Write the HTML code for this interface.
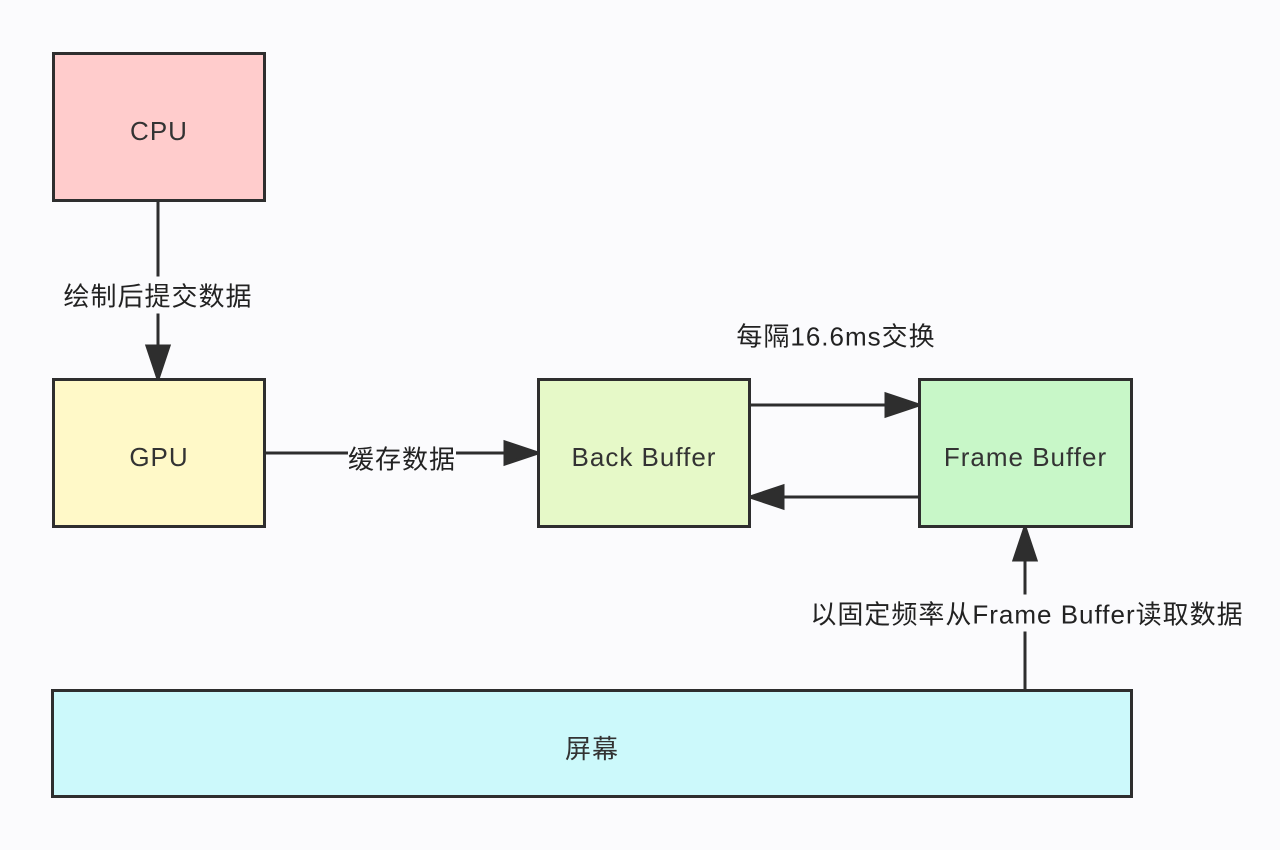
<!DOCTYPE html>
<html><head><meta charset="utf-8"><style>
body{margin:0;width:1280px;height:850px;background:#fbfbfd;position:relative;overflow:hidden;font-family:"Liberation Sans","Noto Sans CJK SC",sans-serif;color:#222}
.b{position:absolute;box-sizing:border-box;border:3px solid #2e2e2e;display:flex;align-items:center;justify-content:center;font-size:26px;letter-spacing:1px;color:#333;padding-top:8px}
.t{position:absolute;font-size:26px;letter-spacing:1px;color:#222;background:#fbfbfd;white-space:nowrap;transform:translate(-50%,-50%)}
</style></head><body>
<svg width="1280" height="850" style="position:absolute;left:0;top:0">
<g stroke="#2e2e2e" stroke-width="3" fill="#2e2e2e">
<line x1="158" y1="201" x2="158" y2="346"/><path d="M147,346L169,346L158,379z"/>
<line x1="265" y1="453" x2="505" y2="453"/><path d="M505,442L505,464L538,453z"/>
<line x1="750" y1="405" x2="886" y2="405"/><path d="M886,394L886,416L919,405z"/>
<line x1="919" y1="497" x2="783" y2="497"/><path d="M783,486L783,508L750,497z"/>
<line x1="1025" y1="690" x2="1025" y2="560"/><path d="M1014,560L1036,560L1025,527z"/>
</g></svg>
<div class="b" style="left:52px;top:52px;width:214px;height:150px;background:#ffcccc">CPU</div>
<div class="b" style="left:52px;top:378px;width:214px;height:150px;background:#fff9c8">GPU</div>
<div class="b" style="left:537px;top:378px;width:214px;height:150px;background:#e6f9c8">Back Buffer</div>
<div class="b" style="left:918px;top:378px;width:215px;height:150px;background:#c8f7c8">Frame Buffer</div>
<div class="b" style="left:51px;top:689px;width:1082px;height:109px;background:#ccf9fb">屏幕</div>
<div class="t" style="left:158px;top:295px">绘制后提交数据</div>
<div class="t" style="left:402px;top:458px">缓存数据</div>
<div class="t" style="left:836px;top:335px">每隔16.6ms交换</div>
<div class="t" style="left:1027px;top:613px">以固定频率从Frame Buffer读取数据</div>
</body></html>
